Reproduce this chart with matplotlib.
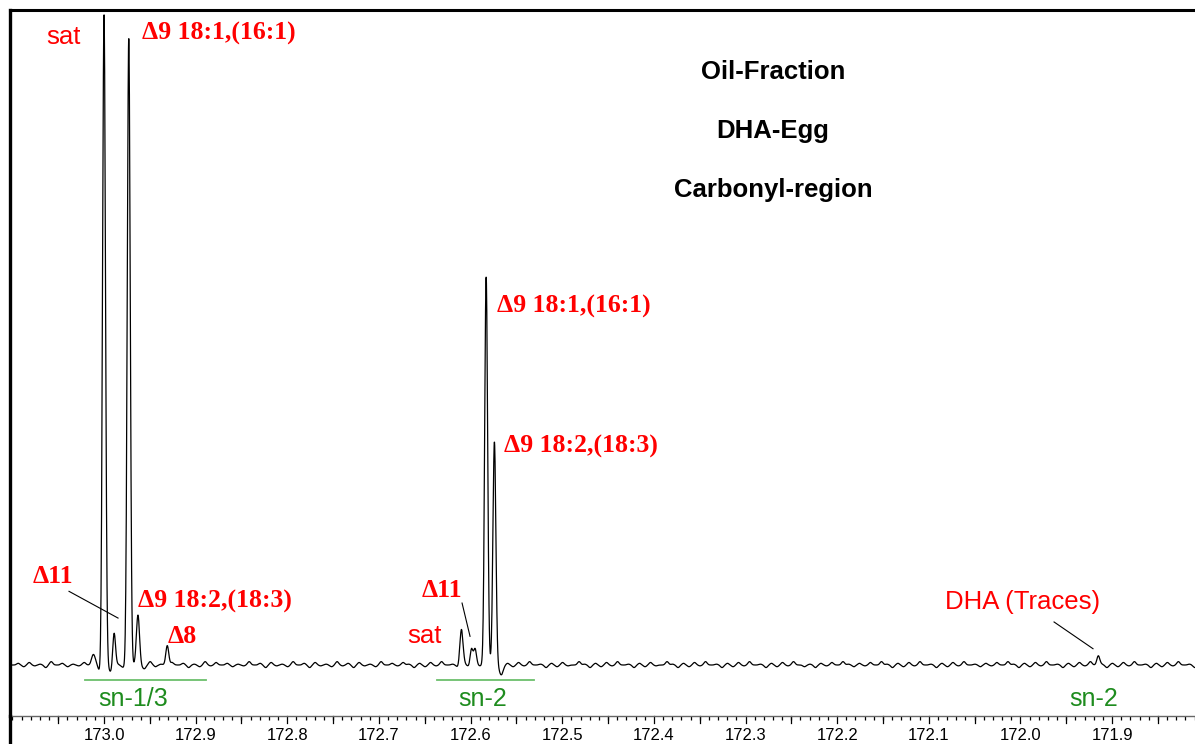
import numpy as np
import matplotlib
matplotlib.use("Agg")
from matplotlib import pyplot as plt
from matplotlib.lines import Line2D
from matplotlib.ticker import FixedLocator, MultipleLocator

# peak table (ppm, relative intensity, width in ppm)
peak_ppm = [173.012, 173.000, 172.989, 172.973, 172.963, 172.931,
            172.610, 172.599, 172.595, 172.583, 172.574, 171.915]
peak_height = [1.4, 100.0, 5.1, 95.9, 7.5, 3.1,
               5.4, 2.5, 2.1, 59.1, 34.2, 1.4]
peak_width = [0.0018, 0.0016, 0.0015, 0.0016, 0.0017, 0.0016,
              0.0017, 0.0015, 0.0015, 0.0016, 0.0016, 0.0016]

# small negative lobes next to the strong lines
dip_ppm = [173.004, 172.993, 172.978, 172.958, 172.567]
dip_depth = [-0.9, -0.9, -0.3, -0.3, -1.2]

# baseline wiggle levels (0..8, 4 = flat), one every 0.006 ppm from left edge
noise_levels = (
    "462735184625374816253746182537461528"
    "374625384617352846173528361735284637"
    "516273845162738451627384516273485162"
    "738451627348516273845162738451627384"
    "251637485263748516273845162738452637"
    "485162738451627384516273845162738451"
)

xmax, xmin = 173.1026, 171.8095
ymin, ymax = -7.82, 100.46
tick_values = [173.0, 172.9, 172.8, 172.7, 172.6, 172.5,
               172.4, 172.3, 172.2, 172.1, 172.0, 171.9]

# labels
red_serif = [
    ("\u03949 18:1,(16:1)", 172.9585, 96.8),
    ("\u03949 18:2,(18:3)", 172.9629, 9.8),
    ("\u03948", 172.9302, 4.3),
    ("\u03949 18:1,(16:1)", 172.5712, 55.0),
    ("\u03949 18:2,(18:3)", 172.5635, 33.5),
]
red_serif_c = [
    ("\u039411", 173.0557, 13.5),
    ("\u039411", 172.6312, 11.5),
]
red_sans = [
    ("sat", 173.0447, 96.3),
    ("sat", 172.6508, 4.4),
    ("DHA (Traces)", 171.9972, 9.6),
]
pointers = [
    ((173.0382, 11.3), (172.9847, 7.2)),
    ((172.6093, 9.5), (172.6006, 4.4)),
    ((171.9633, 6.6), (171.9208, 2.5)),
]
title_lines = ["Oil-Fraction", "DHA-Egg", "Carbonyl-region"]
title_y = [91.0, 81.9, 72.9]
sn_labels = [("sn-1/3", 172.9684), ("sn-2", 172.5864), ("sn-2", 171.9197)]
sn_bars = [(173.0207, 172.8887), (172.6366, 172.5308)]

# %%
x = np.arange(xmin, xmax, 0.0002)
y = np.zeros_like(x)
for p, h, w in zip(peak_ppm, peak_height, peak_width):
    y += h * np.exp(-0.5 * ((x - p) / w) ** 2)
for p, d in zip(dip_ppm, dip_depth):
    y += d * np.exp(-0.5 * ((x - p) / 0.0022) ** 2)
for i, c in enumerate(noise_levels):
    p = xmax - 0.003 - i * 0.006
    y += (int(c) - 4) * 0.13 * np.exp(-0.5 * ((x - p) / 0.0017) ** 2)

W, H = 1195, 744
fig = plt.figure(figsize=(W / 100, H / 100), dpi=100)
ax = fig.add_axes([10 / W, (H - 716) / H, 1185 / W, 706 / H])
ax.plot(x, y, color="black", lw=0.9)
ax.set_xlim(xmax, xmin)
ax.set_ylim(ymin, ymax)

ax.spines["right"].set_visible(False)
ax.spines["top"].set_linewidth(2.2)
ax.spines["left"].set_linewidth(2.4)
ax.spines["bottom"].set_linewidth(1.0)
ax.spines["bottom"].set_color("#666666")
fig.add_artist(Line2D([10 / W, 10 / W], [0, (H - 716) / H], color="black",
                      lw=2.4, transform=fig.transFigure))

ax.set_yticks([])
ax.xaxis.set_major_locator(FixedLocator(tick_values))
ax.xaxis.set_minor_locator(MultipleLocator(0.01))
ax.xaxis.set_major_formatter(matplotlib.ticker.FormatStrFormatter("%.1f"))
ax.tick_params(axis="x", which="major", length=0, pad=9, labelsize=12)
ax.tick_params(axis="x", which="minor", length=3.2, width=0.9)
# longer ticks every 0.05 ppm
for t in np.arange(171.85, 173.1, 0.05):
    ax.plot([t, t], [ymin, ymin - 1.0], color="black", lw=0.9,
            clip_on=False)
for lab in ax.get_xticklabels():
    lab.set_fontfamily(["Liberation Sans", "DejaVu Sans"])

serif = ["Liberation Serif", "DejaVu Serif"]
sans = ["Liberation Sans", "DejaVu Sans"]
for txt, px, py in red_serif:
    ax.text(px, py, txt, color="red", fontsize=18.5, fontweight="bold",
            family=serif, ha="left", va="center")
for txt, px, py in red_serif_c:
    ax.text(px, py, txt, color="red", fontsize=18.5, fontweight="bold",
            family=serif, ha="center", va="center")
for txt, px, py in red_sans:
    ax.text(px, py, txt, color="red", fontsize=18.5, family=sans,
            ha="center", va="center")
for (x0, y0), (x1, y1) in pointers:
    ax.plot([x0, x1], [y0, y1], color="black", lw=0.8)
for txt, ty in zip(title_lines, title_y):
    ax.text(172.270, ty, txt, color="black", fontsize=18.5,
            fontweight="bold", family=sans, ha="center", va="center")
for a, b in sn_bars:
    ax.plot([a, b], [-2.3, -2.3], color="#6cbf6c", lw=1.3)
for txt, px in sn_labels:
    ax.text(px, -5.2, txt, color="#1e8c1e", fontsize=18, family=sans,
            ha="center", va="center")

fig.savefig("out.png", dpi=100)
